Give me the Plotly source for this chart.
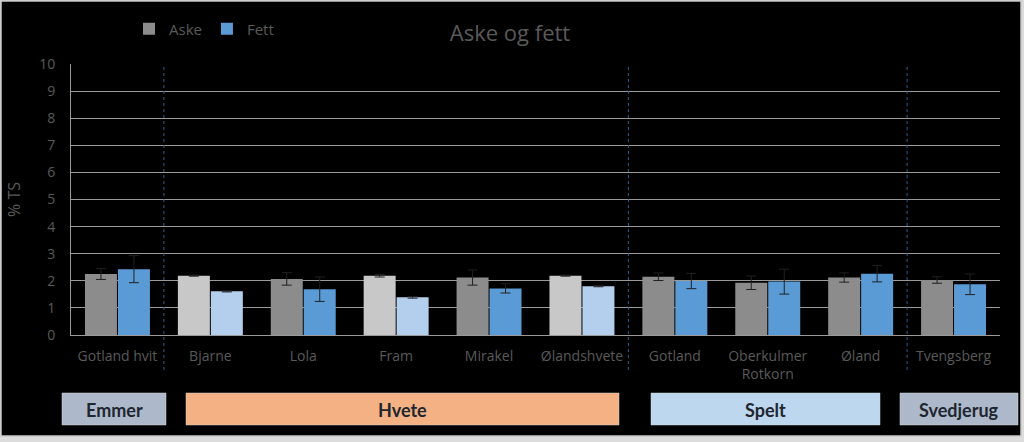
import plotly.graph_objects as go

categories = ["Gotland hvit", "Bjarne", "Lola", "Fram", "Mirakel", "Ølandshvete",
              "Gotland", "Oberkulmer<br>Rotkorn", "Øland", "Tvengsberg"]
aske = [2.25, 2.19, 2.07, 2.19, 2.12, 2.19, 2.15, 1.93, 2.12, 2.03]
aske_err = [0.20, 0.02, 0.23, 0.05, 0.28, 0.02, 0.14, 0.25, 0.17, 0.12]
fett = [2.43, 1.61, 1.69, 1.39, 1.72, 1.80, 1.99, 1.97, 2.26, 1.87]
fett_err = [0.50, 0.02, 0.45, 0.03, 0.17, 0.02, 0.28, 0.46, 0.30, 0.38]
aske_colors = ["#8c8c8c", "#c8c8c8", "#8c8c8c", "#c8c8c8", "#8c8c8c", "#c8c8c8",
               "#8c8c8c", "#8c8c8c", "#8c8c8c", "#8c8c8c"]
fett_colors = ["#5b9bd5", "#b4cfee", "#5b9bd5", "#b4cfee", "#5b9bd5", "#b4cfee",
               "#5b9bd5", "#5b9bd5", "#5b9bd5", "#5b9bd5"]
groups = ["Emmer", "Hvete", "Spelt", "Svedjerug"]
group_colors = ["#adb9ca", "#f4b183", "#bdd7ee", "#adb9ca"]
group_px = [(62, 166), (186, 619), (651, 880), (900, 1018)]
separators = [0.5, 5.5, 8.5]

W, H = 1024, 442
ML, MR, MT, MB = 71, 24, 64, 107
PW, PH = W - ML - MR, H - MT - MB
TEXT = "#5a5a5a"

def px_x(p):
    return (p - ML) / PW

def px_y(p):
    return (H - MB - p) / PH

err_style = dict(type="data", thickness=1, width=5, color="#202020")

fig = go.Figure()
fig.add_trace(go.Bar(name="Aske", x=categories, y=aske, marker=dict(color=aske_colors, line=dict(width=0)),
                     error_y=dict(array=aske_err, **err_style)))
fig.add_trace(go.Bar(name="Fett", x=categories, y=fett, marker=dict(color=fett_colors, line=dict(width=0)),
                     error_y=dict(array=fett_err, **err_style)))

shapes = []
shapes.append(dict(type="rect", xref="paper", yref="paper", x0=px_x(1), x1=px_x(1021),
                   y0=px_y(436), y1=px_y(1), fillcolor="black", line=dict(color="#c8c8c8", width=1.5),
                   layer="below"))
for s in separators:
    shapes.append(dict(type="line", xref="x", yref="paper", x0=s, x1=s, y0=px_y(370), y1=1,
                       line=dict(color="#2f5f8f", width=1, dash="dot")))
annotations = []
for g, c, (a, b) in zip(groups, group_colors, group_px):
    shapes.append(dict(type="rect", xref="paper", yref="paper", x0=px_x(a), x1=px_x(b),
                       y0=px_y(425), y1=px_y(393), fillcolor=c, line=dict(color="#d0d0d0", width=0.5)))
    annotations.append(dict(xref="paper", yref="paper", x=px_x((a + b) / 2), y=px_y(409.5),
                            xanchor="center", yanchor="middle",
                            text="<b>" + g + "</b>", showarrow=False,
                            font=dict(family="Lato", size=18, color="#1e2630")))

fig.update_layout(
    width=W, height=H,
    margin=dict(l=ML, r=MR, t=MT, b=MB),
    paper_bgcolor="#dcdcdc", plot_bgcolor="rgba(0,0,0,0)",
    font=dict(family="Open Sans", size=14, color=TEXT),
    barmode="group", bargap=0.29, bargroupgap=0.03,
    title=dict(text="Aske og fett", x=510 / W, y=1 - 33 / H, xanchor="center", yanchor="middle",
               font=dict(size=22, color=TEXT)),
    legend=dict(orientation="h", x=px_x(129), y=px_y(29), xanchor="left", yanchor="middle",
                bgcolor="rgba(0,0,0,0)", font=dict(size=15), itemwidth=30, tracegroupgap=0),
    shapes=shapes, annotations=annotations,
    xaxis=dict(showgrid=False, showline=True, linecolor="#9a9a9a", ticks="",
               tickfont=dict(size=14), ticklabelstandoff=8, automargin=False),
    yaxis=dict(range=[0, 10], dtick=1, showgrid=True, gridcolor="#9a9a9a", showline=True,
               linecolor="#9a9a9a", zeroline=False, ticks="", tickfont=dict(size=14),
               ticklabelstandoff=12,
               title=dict(text="% TS", font=dict(size=16), standoff=14), automargin=False),
)

fig.write_html("out.html")
